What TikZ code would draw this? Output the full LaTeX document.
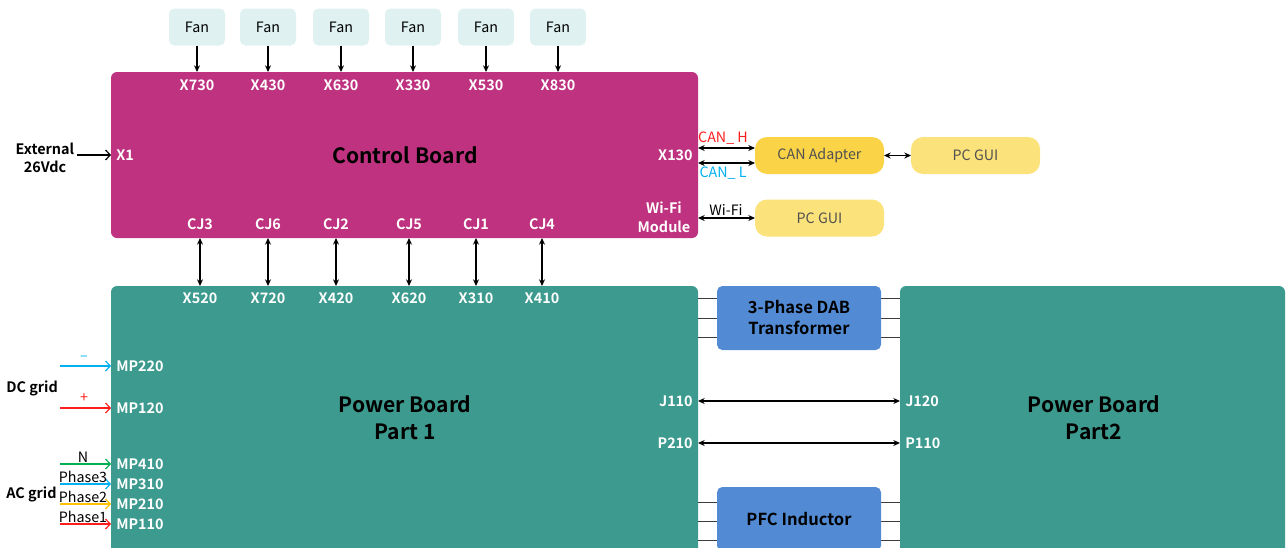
\documentclass[tikz,border=0pt]{standalone}
\usepackage{fontspec}
\setmainfont{Noto Sans CJK SC}[BoldFont={Noto Sans CJK SC Bold}]
\usetikzlibrary{arrows.meta,fit}
\definecolor{cbmag}{RGB}{190,50,128}
\definecolor{pbteal}{RGB}{61,154,142}
\definecolor{dabblue}{RGB}{82,139,212}
\definecolor{fanbg}{RGB}{223,242,241}
\definecolor{canyel}{RGB}{250,211,70}
\definecolor{guiyel}{RGB}{252,226,122}
\definecolor{txtgray}{RGB}{80,80,80}
\definecolor{cred}{RGB}{255,30,30}
\definecolor{ccyan}{RGB}{0,176,240}
\definecolor{cgreen}{RGB}{0,176,80}
\definecolor{corange}{RGB}{255,192,0}
\definecolor{linegray}{RGB}{60,60,60}
\begin{document}
\begin{tikzpicture}[x=0.75pt,y=-0.75pt,
  port/.style={font=\bfseries\fontsize{10.8}{13}\selectfont, text=white, inner sep=0pt},
  boardtitle/.style={font=\bfseries\fontsize{15.8}{20.3}\selectfont, align=center, inner sep=0pt},
  ext/.style={font=\bfseries\fontsize{10.8}{13.5}\selectfont, align=center, inner sep=0pt},
  plaintext/.style={font=\fontsize{10.7}{13}\selectfont, inner sep=0pt},
  board/.style={inner sep=0pt, outer sep=0pt, rounded corners=4.5pt},
  fanbox/.style={fill=fanbg, rounded corners=4pt, minimum width=42pt, minimum height=27.75pt, font=\fontsize{10.7}{13}\selectfont, inner sep=0pt, outer sep=0pt},
  ybox/.style={rounded corners=9pt, minimum width=96.75pt, minimum height=27.75pt, font=\fontsize{10.7}{13}\selectfont, text=txtgray, inner sep=0pt, outer sep=0pt},
  bluebox/.style={fill=dabblue, rounded corners=4pt, inner sep=0pt, outer sep=0pt, align=center, minimum width=123pt, minimum height=48pt, font=\bfseries\fontsize{12.4}{15.75}\selectfont},
  conn/.style={line width=0.8pt, -{Stealth[length=5pt,width=4.5pt]}},
  biconn/.style={line width=0.8pt, {Stealth[length=5pt,width=4.5pt]}-{Stealth[length=5pt,width=4.5pt]}},
  feed/.style={line width=0.9pt, -{Straight Barb[length=3.5pt,width=7.5pt]}},
  busline/.style={line width=0.75pt, draw=linegray},
]
\useasboundingbox (0,0) rectangle (1286,547);
\begin{scope}
\clip (0,0) rectangle (1286,547);

% boards
\node[board, fill=cbmag, fit={(111,72) (698,238)}] (cb) {};
\node[board, fill=pbteal, fit={(111,286) (698,570)}] (pb1) {};
\node[board, fill=pbteal, fit={(900,286) (1285,570)}] (pb2) {};

% bus lines between power boards
\foreach \y [count=\i] in {298,318,337,502,521,540} {
  \coordinate (bus\i) at (0,\y);
  \draw[busline] (pb1.east |- bus\i) -- (pb2.west |- bus\i);
}
\node[bluebox] (dab) at (799,318) {3-Phase DAB\\Transformer};
\node[bluebox] (pfc) at (799,519) {PFC Inductor};

% fans
\foreach \x/\n [count=\i] in {197/X730,268/X430,341/X630,413/X330,486/X530,558/X830} {
  \node[fanbox] (fan\i) at (\x,27) {Fan};
  \node[port] (xf\i) at (\x,85) {\n};
  \draw[conn] (fan\i.south) -- (fan\i.south |- cb.north);
}

% CJ connectors
\foreach \x/\a/\b [count=\i] in {200/CJ3/X520,268/CJ6/X720,336/CJ2/X420,409/CJ5/X620,476/CJ1/X310,542/CJ4/X410} {
  \node[port] (cj\i) at (\x,224) {\a};
  \node[port] (xp\i) at (\x,298) {\b};
  \draw[biconn] (cj\i |- cb.south) -- (xp\i |- pb1.north);
}

% control board texts
\node[boardtitle] (cbt) at (405,155) {Control Board};
\node[port, anchor=west] (x1) at (116,155) {X1};
\node[ext] (ext) at (45,158) {External\\26Vdc};
\draw[feed] ([xshift=2pt]ext.east |- x1) -- (cb.west |- x1);
\node[port, anchor=east] (x130) at (693,155) {X130};
\node[port, align=center, font=\bfseries\fontsize{10.8}{14.25}\selectfont] (wifim) at (664,217) {Wi-Fi\\Module};

% CAN / PC GUI
\node[ybox, fill=canyel] (can) at (819.5,155.5) {CAN Adapter};
\node[ybox, fill=guiyel] (gui1) at (975.5,155.5) {PC GUI};
\node[ybox, fill=guiyel] (gui2) at (819.5,218) {PC GUI};
\coordinate (ch) at (0,148);
\coordinate (cl) at (0,163);
\draw[biconn] (cb.east |- ch) -- (can.west |- ch);
\draw[biconn] (cb.east |- cl) -- (can.west |- cl);
\node[plaintext, text=cred] (canh) at (723,138) {CAN\_\ H};
\node[plaintext, text=ccyan] (canl) at (723,173) {CAN\_\ L};
\draw[biconn] (can) -- (gui1);
\draw[biconn] (cb.east |- gui2) -- (gui2.west);
\node[plaintext] (wifil) at (726,210) {Wi-Fi};

% power board texts
\node[boardtitle] (pb1t) at (405,418) {Power Board\\Part 1};
\node[boardtitle] (pb2t) at (1094,418) {Power Board\\Part2};
\node[port, anchor=west] (mp220) at (116,366) {MP220};
\node[port, anchor=west] (mp120) at (116,408) {MP120};
\node[port, anchor=west] (mp410) at (116,464) {MP410};
\node[port, anchor=west] (mp310) at (116,484) {MP310};
\node[port, anchor=west] (mp210) at (116,504) {MP210};
\node[port, anchor=west] (mp110) at (116,524) {MP110};

\foreach \n/\c in {220/ccyan,120/cred,410/cgreen,310/ccyan,210/corange,110/cred} {
  \coordinate (in\n) at (60,0);
  \draw[feed, \c] (in\n |- mp\n) -- (pb1.west |- mp\n);
}
\node[plaintext, text=ccyan] (lminus) at (84,358) {\textendash};
\node[plaintext, text=cred] (lplus) at (84,398) {+};
\node[plaintext] (lN) at (83,457) {N};
\node[plaintext] (lp3) at (83,477) {Phase3};
\node[plaintext] (lp2) at (83,497) {Phase2};
\node[plaintext] (lp1) at (83,517) {Phase1};
\node[ext, anchor=west] (dcg) at (6,388) {DC grid};
\node[ext, anchor=west] (acg) at (6,494) {AC grid};

% inter-board
\node[port, anchor=east] (j110) at (693,401) {J110};
\node[port, anchor=east] (p210) at (693,443) {P210};
\node[port, anchor=west] (j120) at (905,401) {J120};
\node[port, anchor=west] (p110) at (905,443) {P110};
\draw[biconn] (pb1.east |- j110) -- (pb2.west |- j120);
\draw[biconn] (pb1.east |- p210) -- (pb2.west |- p110);
\end{scope}
\end{tikzpicture}
\end{document}
